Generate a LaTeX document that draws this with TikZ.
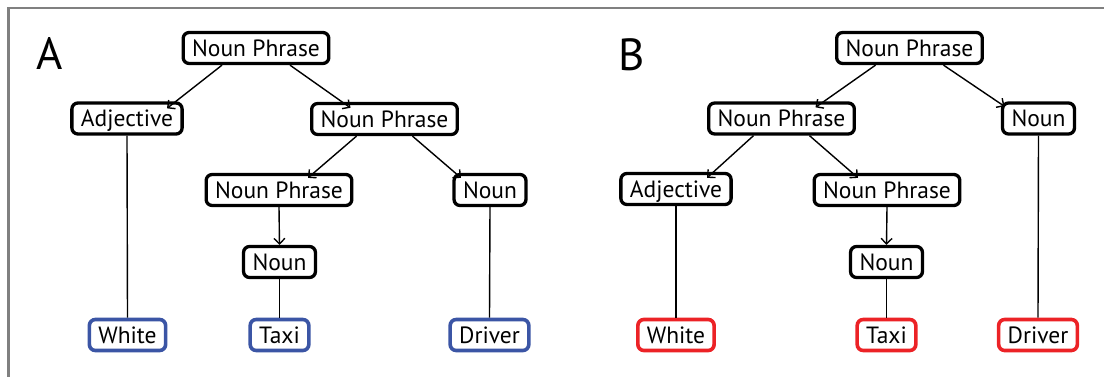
\documentclass[tikz,border=0pt]{standalone}
\usepackage{fontspec}
\setmainfont{PT Sans}
\usetikzlibrary{arrows.meta}
\definecolor{leafblue}{RGB}{59,85,165}
\definecolor{leafred}{RGB}{236,34,38}
\definecolor{framegray}{RGB}{128,128,128}
\tikzset{
  phrase/.style={draw=black, line width=3.3pt, rounded corners=6pt, fill=white,
    font=\fontsize{23.5}{27}\selectfont, text height=16.5pt, text depth=0pt,
    inner xsep=9pt, inner ysep=0pt, minimum height=31pt},
  leafA/.style={phrase, draw=leafblue, line width=3.6pt},
  leafB/.style={phrase, draw=leafred, line width=3.6pt},
  branch/.style={line width=1.4pt, -{Straight Barb[length=5.5pt,width=11pt,line width=1.4pt]}},
  stem/.style={line width=1.4pt},
  panel/.style={font=\fontsize{45}{50}\selectfont, inner sep=0pt}
}
\begin{document}
\begin{tikzpicture}[x=1pt,y=-1pt]
\useasboundingbox (0,0) rectangle (1104,377);
% open frame along the top and left edges
\draw[framegray, line width=2.5pt] (8.5,377) -- (8.5,8) -- (1104,8);

% ---------- tree A ----------
\node[panel] (lblA) at (50,54) {A};
\node[phrase] (a1) at (256,48)  {Noun Phrase};
\node[phrase] (a2) at (127,118.5) {Adjective};
\node[phrase] (a3) at (384.5,119) {Noun Phrase};
\node[phrase] (a4) at (279,190) {Noun Phrase};
\node[phrase] (a5) at (490,190) {Noun};
\node[phrase] (a6) at (279.5,262) {Noun};
\node[leafA]  (a7) at (127.5,335) {White};
\node[leafA]  (a8) at (279.5,335) {Taxi};
\node[leafA]  (a9) at (489.5,335) {Driver};

\draw[branch] ([xshift=-34pt]a1.south) -- ([xshift=40pt,yshift=-7pt]a2.north);
\draw[branch] ([xshift=34pt]a1.south) -- ([xshift=-34pt,yshift=-6pt]a3.north);
\draw[branch] ([xshift=-28pt]a3.south) -- ([xshift=29pt,yshift=-5pt]a4.north);
\draw[branch] ([xshift=28pt]a3.south) -- ([xshift=-29pt,yshift=-5pt]a5.north);
\draw[branch] (a4.south) -- (a6.north);
\draw[stem] (a2.south) -- (a7.north);
\draw[stem] (a6.south) -- (a8.north);
\draw[stem] (a5.south) -- (a9.north);

% ---------- tree B ----------
\node[panel] (lblB) at (632,55) {B};
\node[phrase] (b1) at (909.5,48) {Noun Phrase};
\node[phrase] (b2) at (781.5,118.5) {Noun Phrase};
\node[phrase] (b3) at (1038.5,118.5) {Noun};
\node[phrase] (b4) at (676,189) {Adjective};
\node[phrase] (b5) at (887,190) {Noun Phrase};
\node[phrase] (b6) at (886.5,262) {Noun};
\node[leafB]  (b7) at (676,335) {White};
\node[leafB]  (b8) at (886.5,335) {Taxi};
\node[leafB]  (b9) at (1038,335) {Driver};

\draw[branch] ([xshift=-34pt]b1.south) -- ([xshift=34pt,yshift=-6pt]b2.north);
\draw[branch] ([xshift=34pt]b1.south) -- ([xshift=-34pt,yshift=-5pt]b3.north);
\draw[branch] ([xshift=-28pt]b2.south) -- ([xshift=31pt,yshift=-6pt]b4.north);
\draw[branch] ([xshift=28pt]b2.south) -- ([xshift=-29pt,yshift=-5pt]b5.north);
\draw[branch] (b5.south) -- (b6.north);
\draw[stem] (b4.south) -- (b7.north);
\draw[stem] (b6.south) -- (b8.north);
\draw[stem] (b3.south) -- (b9.north);
\end{tikzpicture}
\end{document}
